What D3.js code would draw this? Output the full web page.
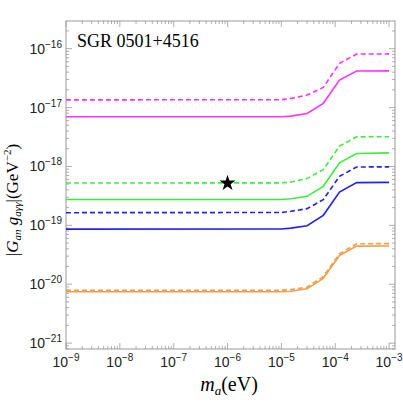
<!DOCTYPE html>
<html>
<head>
<meta charset="utf-8">
<script src="https://cdn.jsdelivr.net/npm/d3@7"></script>
<style>
  body { margin: 0; background: #fff; }
  .tick-label { font-family: "Liberation Sans", Arial, sans-serif; font-size: 14px; fill: #222; }
  .serif { font-family: "Liberation Serif", "Times New Roman", serif; fill: #000; }
</style>
</head>
<body>
<script>
// mass grid (eV)
var masses = [1e-9, 1e-5, 1.5e-5, 3e-5, 6e-5, 1.2e-4, 2.5e-4, 1e-3];

// |G_an g_agg| curves (GeV^-2)
var pinkDashed   = [1.35e-17, 1.36e-17, 1.43e-17, 1.63e-17, 2.2e-17, 5.64e-17, 8.1e-17, 8.15e-17];
var pinkSolid    = [6.97e-18, 6.98e-18, 7.15e-18, 7.94e-18, 1.18e-17, 2.93e-17, 4.17e-17, 4.2e-17];
var greenDashed  = [5.24e-19, 5.26e-19, 5.44e-19, 6.22e-19, 8.85e-19, 2.21e-18, 3.18e-18, 3.2e-18];
var greenSolid   = [2.74e-19, 2.75e-19, 2.82e-19, 3.11e-19, 4.6e-19, 1.15e-18, 1.66e-18, 1.7e-18];
var blueDashed   = [1.64e-19, 1.65e-19, 1.73e-19, 1.92e-19, 2.73e-19, 6.8e-19, 9.8e-19, 9.85e-19];
var blueSolid    = [8.63e-20, 8.66e-20, 8.97e-20, 9.86e-20, 1.48e-19, 3.68e-19, 5.32e-19, 5.36e-19];
var orangeDashed = [7.9e-21, 7.92e-21, 8.1e-21, 8.9e-21, 1.35e-20, 3.29e-20, 4.87e-20, 4.9e-20];
var orangeSolid  = [7.43e-21, 7.45e-21, 7.6e-21, 8.36e-21, 1.26e-20, 3.08e-20, 4.44e-20, 4.46e-20];

var starPoint = {m: 1e-6, g: 5.2e-19};

var xTickExps = [-9, -8, -7, -6, -5, -4, -3];
var yTickExps = [-21, -20, -19, -18, -17, -16];

var series = [
  {vals: pinkDashed,   color: "#ff33ff", dash: true},
  {vals: pinkSolid,    color: "#ff33ff", dash: false},
  {vals: greenDashed,  color: "#3ded3d", dash: true},
  {vals: greenSolid,   color: "#3ded3d", dash: false},
  {vals: blueDashed,   color: "#2222ee", dash: true},
  {vals: blueSolid,    color: "#2222ee", dash: false},
  {vals: orangeDashed, color: "#f0a04c", dash: true},
  {vals: orangeSolid,  color: "#f0a04c", dash: false}
];

var W = 403, H = 405;
var pL = 66, pR = 395, pT = 21, pB = 349;

var x = d3.scaleLog().domain([1e-9, Math.pow(10, -2.89)]).range([pL, pR]);
var y = d3.scaleLog().domain([Math.pow(10, -21.1), Math.pow(10, -15.53)]).range([pB, pT]);

var svg = d3.select("body").append("svg")
    .attr("width", W)
    .attr("height", H);

// minor + major ticks
function minorVals(exps) {
  var out = [];
  for (var e = exps[0] - 1; e <= exps[exps.length - 1]; e++) {
    for (var k = 2; k <= 9; k++) out.push(k * Math.pow(10, e));
  }
  return out;
}
var xd = x.domain(), yd = y.domain();
var xMinor = minorVals(xTickExps).filter(function(v) { return v >= xd[0] && v <= xd[1]; });
var yMinor = minorVals(yTickExps).filter(function(v) { return v >= yd[0] && v <= yd[1]; });
var tickColor = "#999";

var ticks = svg.append("g").attr("stroke", tickColor).attr("stroke-width", 0.8);
xTickExps.forEach(function(e) {
  var px = x(Math.pow(10, e));
  ticks.append("line").attr("x1", px).attr("x2", px).attr("y1", pB).attr("y2", pB - 6);
  ticks.append("line").attr("x1", px).attr("x2", px).attr("y1", pT).attr("y2", pT + 6);
});
xMinor.forEach(function(v) {
  var px = x(v);
  ticks.append("line").attr("x1", px).attr("x2", px).attr("y1", pB).attr("y2", pB - 3);
  ticks.append("line").attr("x1", px).attr("x2", px).attr("y1", pT).attr("y2", pT + 3);
});
yTickExps.forEach(function(e) {
  var py = y(Math.pow(10, e));
  ticks.append("line").attr("x1", pL).attr("x2", pL + 6).attr("y1", py).attr("y2", py);
  ticks.append("line").attr("x1", pR).attr("x2", pR - 6).attr("y1", py).attr("y2", py);
});
yMinor.forEach(function(v) {
  var py = y(v);
  ticks.append("line").attr("x1", pL).attr("x2", pL + 3).attr("y1", py).attr("y2", py);
  ticks.append("line").attr("x1", pR).attr("x2", pR - 3).attr("y1", py).attr("y2", py);
});

// frame
svg.append("rect")
    .attr("x", pL).attr("y", pT)
    .attr("width", pR - pL).attr("height", pB - pT)
    .attr("fill", "none")
    .attr("stroke", tickColor)
    .attr("stroke-width", 1);

// curves
var line = d3.line()
    .x(function(d) { return x(d[0]); })
    .y(function(d) { return y(d[1]); });

svg.append("g").selectAll("path")
    .data(series)
  .enter().append("path")
    .attr("d", function(s) { return line(masses.map(function(m, i) { return [m, s.vals[i]]; })); })
    .attr("fill", "none")
    .attr("stroke", function(s) { return s.color; })
    .attr("stroke-width", 1.6)
    .attr("stroke-dasharray", function(s) { return s.dash ? "5,3" : null; });

// star
svg.append("path")
    .attr("d", d3.symbol().type(d3.symbolStar).size(80)())
    .attr("transform", "translate(" + x(starPoint.m) + "," + y(starPoint.g) + ")")
    .attr("fill", "#000");

// x tick labels
xTickExps.forEach(function(e) {
  var t = svg.append("text")
      .attr("class", "tick-label")
      .attr("x", x(Math.pow(10, e)))
      .attr("y", 367)
      .attr("text-anchor", "middle");
  t.append("tspan").text("10");
  t.append("tspan").attr("dy", -6).style("font-size", "10px").text("\u2212" + Math.abs(e));
});

// y tick labels
yTickExps.forEach(function(e) {
  var t = svg.append("text")
      .attr("class", "tick-label")
      .attr("x", pL - 4)
      .attr("y", y(Math.pow(10, e)) + 5)
      .attr("text-anchor", "end");
  t.append("tspan").text("10");
  t.append("tspan").attr("dy", -6).style("font-size", "10px").text("\u2212" + Math.abs(e));
});

// title
svg.append("text")
    .attr("class", "serif")
    .attr("x", 77)
    .attr("y", 47)
    .style("font-size", "18px")
    .text("SGR 0501+4516");

// x label
var xl = svg.append("text")
    .attr("class", "serif")
    .attr("x", 229)
    .attr("y", 391)
    .attr("text-anchor", "middle")
    .style("font-size", "20px");
xl.append("tspan").style("font-style", "italic").text("m");
xl.append("tspan").style("font-style", "italic").style("font-size", "13px").attr("dy", 4).text("a");
xl.append("tspan").attr("dy", -4).text("(eV)");

// y label
var yl = svg.append("text")
    .attr("class", "serif")
    .attr("transform", "translate(18,200) rotate(-90)")
    .attr("text-anchor", "middle")
    .style("font-size", "17px");
yl.append("tspan").text("|");
yl.append("tspan").style("font-style", "italic").text("G");
yl.append("tspan").style("font-style", "italic").style("font-size", "11px").attr("dy", 3).text("an");
yl.append("tspan").style("font-style", "italic").attr("dy", -3).text(" g");
yl.append("tspan").style("font-style", "italic").style("font-size", "11px").attr("dy", 3).text("a\u03b3\u03b3");
yl.append("tspan").attr("dy", -3).text("|(GeV");
yl.append("tspan").style("font-size", "11px").attr("dy", -7).text("\u22122");
yl.append("tspan").attr("dy", 7).text(")");
</script>
</body>
</html>
